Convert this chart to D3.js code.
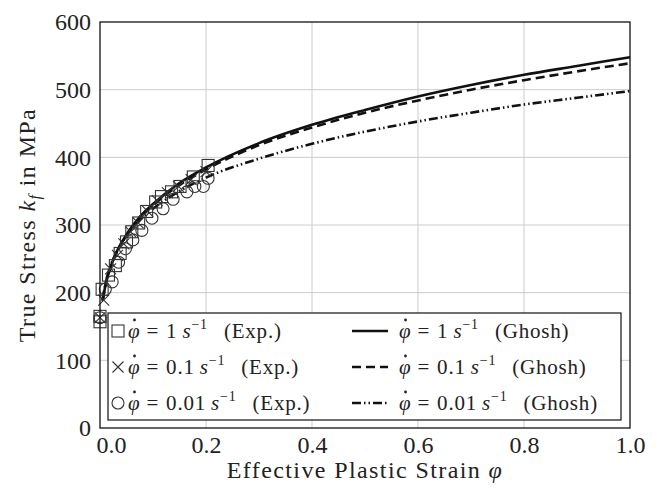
<!DOCTYPE html>
<html lang="en">
<head>
  <meta charset="UTF-8" />
  <title>True Stress vs Effective Plastic Strain</title>
  <script src="https://d3js.org/d3.v7.min.js"></script>
  <style>
    body { margin: 0; background: white; font-family: "Liberation Serif", "DejaVu Serif", serif; }
    .grid line { stroke: #cccccc; stroke-width: 1; }
    .axis text { font-family: "Liberation Serif", serif; font-size: 24px; fill: #222; }
    .title { font-size: 24px; letter-spacing: 1.4px; fill: #222; }
    .curve { fill: none; stroke: #111; stroke-width: 2.6; }
    .mark { fill: none; stroke: #333; stroke-width: 1.1; }
    .legend text { font-size: 21px; fill: #222; letter-spacing: 0.8px; }
  </style>
</head>
<body>
  <svg width="662" height="488"></svg>

  <script>
    const sqX = [0, 0, 0.004, 0.016, 0.029, 0.038, 0.05, 0.06, 0.073, 0.088, 0.105, 0.116, 0.135, 0.151, 0.176, 0.204];
    const sqY = [157, 165, 205, 226, 240, 258, 275, 290, 303, 320, 334, 342, 349, 357, 371, 388];
    const crossX = [0, 0.007, 0.02, 0.033, 0.045, 0.058, 0.072, 0.09, 0.108, 0.127, 0.148, 0.172, 0.2];
    const crossY = [163, 189, 235, 255, 272, 290, 303, 320, 336, 348, 357, 367, 379];
    const circX = [0, 0.01, 0.023, 0.035, 0.048, 0.062, 0.079, 0.098, 0.119, 0.138, 0.164, 0.179, 0.195, 0.204];
    const circY = [163, 205, 216, 245, 265, 278, 292, 310, 324, 338, 349, 357, 357, 369];

    // Ghosh model curves
    const strain = [0.005, 0.01, 0.02, 0.03, 0.05, 0.075, 0.1, 0.15, 0.2, 0.3, 0.4, 0.5, 0.6, 0.7, 0.8, 0.9, 1.0];
    const ghosh1 = [188, 210, 238, 258, 286, 312, 331, 362, 385, 421, 448, 470, 490, 507, 522, 535, 548];
    const ghosh01 = [188, 210, 237, 257, 285, 310, 329, 359, 382, 418, 444, 466, 484, 500, 514, 527, 539];
    const ghosh001 = [190, 212, 240, 258, 284, 307, 324, 350, 370, 398, 420, 438, 453, 466, 478, 488, 498];

    const xTicks = [0, 0.2, 0.4, 0.6, 0.8, 1.0];
    const yTicks = [0, 100, 200, 300, 400, 500, 600];

    const svg = d3.select("svg");
    const margin = {top: 22, right: 32, bottom: 60, left: 100};
    const width = 662 - margin.left - margin.right,
          height = 488 - margin.top - margin.bottom;

    const x = d3.scaleLinear().domain([0, 1]).range([margin.left, margin.left + width]);
    const y = d3.scaleLinear().domain([0, 600]).range([margin.top + height, margin.top]);

    // grid
    const grid = svg.append("g").attr("class", "grid");
    grid.selectAll(".gx").data(xTicks.slice(1, -1)).join("line")
      .attr("x1", d => x(d)).attr("x2", d => x(d))
      .attr("y1", y(0)).attr("y2", y(600));
    grid.selectAll(".gy").data(yTicks.slice(1, -1)).join("line")
      .attr("x1", x(0)).attr("x2", x(1))
      .attr("y1", d => y(d)).attr("y2", d => y(d));

    // axes (labels only, frame drawn separately)
    const xAxis = svg.append("g").attr("class", "axis")
      .attr("transform", `translate(0,${y(0)})`)
      .call(d3.axisBottom(x).tickValues(xTicks).tickFormat(d3.format(".1f")).tickSize(0).tickPadding(8));
    xAxis.select(".domain").remove();
    xAxis.selectAll(".tick").filter(d => d === 0).select("text").attr("dx", 11);

    const yAxis = svg.append("g").attr("class", "axis")
      .attr("transform", `translate(${x(0)},0)`)
      .call(d3.axisLeft(y).tickValues(yTicks).tickSize(0).tickPadding(9));
    yAxis.select(".domain").remove();

    // curves
    const line = d3.line().x(d => x(d[0])).y(d => y(d[1])).curve(d3.curveMonotoneX);
    const curves = [
      {vals: ghosh1, dash: null},
      {vals: ghosh01, dash: "9,5"},
      {vals: ghosh001, dash: "9,3,1.5,3,1.5,3"}
    ];
    svg.append("g").selectAll("path").data(curves).join("path")
      .attr("class", "curve")
      .attr("d", c => line(strain.map((s, i) => [s, c.vals[i]])))
      .attr("stroke-dasharray", c => c.dash);

    // markers
    const sym = {
      square: g => g.append("rect").attr("x", -6).attr("y", -6).attr("width", 12).attr("height", 12),
      cross: g => g.append("path").attr("d", "M-5.5,-5.5L5.5,5.5M-5.5,5.5L5.5,-5.5"),
      circle: g => g.append("circle").attr("r", 6)
    };
    function drawMarks(xs, ys, kind) {
      const g = svg.append("g");
      xs.forEach((v, i) => {
        const m = g.append("g").attr("class", "mark").attr("transform", `translate(${x(v)},${y(ys[i])})`);
        sym[kind](m);
      });
    }
    drawMarks(sqX, sqY, "square");
    drawMarks(crossX, crossY, "cross");
    drawMarks(circX, circY, "circle");

    // legend
    const legend = svg.append("g").attr("class", "legend");
    legend.append("rect").attr("x", 108).attr("y", 313).attr("width", 513).attr("height", 107)
      .attr("fill", "white").attr("stroke", "#111").attr("stroke-width", 1.2);
    const rates = ["1", "0.1", "0.01"];
    const kinds = ["square", "cross", "circle"];
    rates.forEach((r, i) => {
      const ry = 331 + i * 36;
      const m = legend.append("g").attr("class", "mark").attr("transform", `translate(118,${ry})`);
      sym[kinds[i]](m);
      legend.append("line").attr("class", "curve")
        .attr("x1", 352).attr("x2", 388).attr("y1", ry).attr("y2", ry)
        .attr("stroke-dasharray", curves[i].dash);
      [[128, "(Exp.)"], [399, "(Ghosh)"]].forEach(([tx, tag]) => {
        const t = legend.append("text").attr("x", tx).attr("y", ry + 7);
        t.append("tspan").attr("font-style", "italic").text("φ");
        t.append("tspan").attr("dx", 6).text("=");
        t.append("tspan").attr("dx", 7).text(r);
        t.append("tspan").attr("dx", 5).attr("font-style", "italic").text("s");
        t.append("tspan").attr("font-size", "14px").attr("dy", -9).text("\u22121");
        t.append("tspan").attr("dx", 16).attr("dy", 9).text(tag);
        // time-derivative dot over phi
        legend.append("circle").attr("cx", tx + 6.5).attr("cy", ry - 11)
          .attr("r", 1.4).attr("fill", "#222");
      });
    });

    // frame
    svg.append("rect").attr("x", x(0)).attr("y", y(600)).attr("width", width).attr("height", height)
      .attr("fill", "none").attr("stroke", "#111").attr("stroke-width", 1.3);

    // axis titles
    const xl = svg.append("text").attr("class", "title").attr("x", x(0.5)).attr("y", 478)
      .attr("text-anchor", "middle");
    xl.append("tspan").text("Effective Plastic Strain ");
    xl.append("tspan").attr("font-style", "italic").text("φ");

    const yl = svg.append("text").attr("class", "title")
      .attr("transform", `translate(35,${y(300)}) rotate(-90)`)
      .attr("text-anchor", "middle");
    yl.append("tspan").text("True Stress ");
    yl.append("tspan").attr("font-style", "italic").text("k");
    yl.append("tspan").attr("font-style", "italic").attr("font-size", "16px").attr("dy", 5).text("f");
    yl.append("tspan").attr("dy", -5).text(" in MPa");
  </script>
</body>
</html>
